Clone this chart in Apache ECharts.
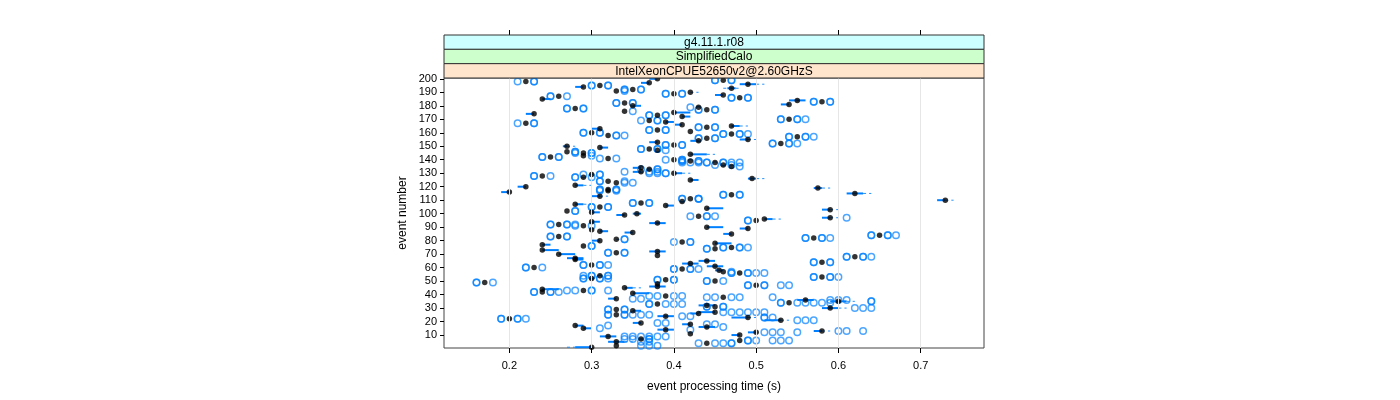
<!DOCTYPE html>
<html><head><meta charset="utf-8">
<script src="https://cdn.jsdelivr.net/npm/echarts@6/dist/echarts.min.js"></script>
<style>html,body{margin:0;padding:0;background:#fff}#c{width:1400px;height:400px}</style>
</head><body><div id="c"></div>
<script>
const xTicks = [0.2, 0.3, 0.4, 0.5, 0.6, 0.7];
const yTicks = [10,20,30,40,50,60,70,80,90,100,110,120,130,140,150,160,170,180,190,200];
const stripLabels = ['g4.11.1.r08', 'SimplifiedCalo', 'IntelXeonCPUE52650v2@2.60GHzS'];
const xTitle = 'event processing time (s)';
const yTitle = 'event number';

const events = [
200,199,198,197,196,195,194,193,192,191,
190,189,188,187,186,185,184,183,182,181,
180,179,178,177,176,175,174,173,172,170,
169,168,167,166,165,164,163,162,161,160,
159,158,157,156,155,154,153,152,151,150,
149,148,147,146,145,144,143,142,141,140,
139,138,136,135,134,133,131,130,129,128,
127,126,125,124,123,121,120,119,118,117,
116,115,114,113,111,110,109,108,107,106,
105,104,103,102,101,100,99,98,97,96,
95,94,93,92,91,90,89,88,87,86,
85,84,83,82,81,80,79,78,77,76,
75,74,73,72,71,70,69,68,67,66,
65,64,63,62,61,60,59,58,57,56,
54,53,52,51,50,49,48,47,46,45,
44,43,42,41,39,38,37,36,35,34,
33,32,31,30,29,28,27,26,25,24,
23,22,21,19,18,17,16,15,14,13,
12,11,10,9,7,6,5,4,2,1];

const medians = [
.38,.46,.22,.37,.49,.31,.29,.47,.35,.33,
.42,.40,.46,.26,.48,.24,.55,.58,.34,.54,
.35,.43,.28,.44,.34,.40,.23,.38,.41,.54,
.37,.39,.22,.41,.47,.44,.31,.38,.42,.30,
.47,.32,.55,.44,.49,.43,.38,.53,.40,.27,
.31,.37,.38,.27,.29,.42,.29,.25,.32,.40,
.42,.45,.46,.47,.36,.37,.36,.40,.30,.24,
.29,.495,.42,.32,.33,.28,.22,.575,.32,.32,
.20,.62,.47,.31,.42,.73,.41,.36,.28,.39,
.31,.44,.59,.27,.30,.355,.34,.43,.59,.51,
.50,.30,.38,.26,.29,.44,.49,.30,.31,.35,
.47,.65,.26,.57,.33,.31,.41,.45,.24,.29,
.47,.45,.24,.38,.33,.26,.38,.62,.28,.28,
.44,.58,.42,.30,.45,.23,.41,.455,.46,.48,
.31,.58,.30,.39,.45,.17,.38,.50,.38,.34,
.24,.29,.24,.35,.39,.46,.33,.56,.60,.54,
.38,.44,.45,.59,.33,.35,.45,.43,.33,.39,
.49,.20,.53,.36,.42,.28,.44,.29,.39,.58,
.50,.42,.48,.32,.36,.48,.33,.44,.33,.30];

// lower / upper hinge (null = equal to median)
const boxLo = [
.37,null,null,.36,.48,null,.28,.465,null,null,
.42,null,.45,null,null,.24,.54,null,null,.53,
.35,null,null,null,null,.40,.22,null,.41,null,
null,.39,null,.40,.47,null,.30,null,null,null,
null,null,null,null,.48,.42,.37,null,null,.265,
.31,null,null,null,null,.42,null,null,null,null,
null,null,null,null,.35,null,.35,.40,null,null,
null,.49,.42,null,null,.28,.21,.57,null,null,
.19,.61,null,.30,null,.72,null,null,.28,.39,
null,.44,.58,null,.30,.35,.33,null,.58,.51,
null,.30,.37,null,null,.44,.48,null,.31,.34,
.46,null,null,null,.33,.30,null,.45,.24,null,
null,null,.24,.37,null,.26,null,null,.27,.28,
.43,null,.41,null,.44,null,null,.45,null,null,
null,null,null,null,null,null,null,null,.37,.34,
.24,null,null,.35,null,null,.32,.55,.59,null,
null,.43,null,.58,null,.35,.43,.42,null,.38,
.47,null,.51,.35,.41,.28,.43,.29,.38,.57,
.49,null,.47,.31,null,null,.32,null,null,.28];

const boxHi = [
.38,null,null,.37,.50,null,.29,.475,null,null,
.42,null,.46,null,null,.25,.56,null,null,.54,
.36,null,null,null,null,.42,.23,null,.42,null,
null,.40,null,.41,.48,null,.31,null,null,null,
null,null,null,null,.49,.43,.38,null,null,.27,
.32,null,null,null,null,.44,null,null,null,null,
null,null,null,null,.36,null,.36,.41,null,null,
null,.50,.43,null,null,.29,.22,.58,null,null,
.20,.63,null,.31,null,.73,null,null,.29,.40,
null,.46,.59,null,.31,.36,.34,null,.59,.52,
null,.31,.39,null,null,.46,.49,null,.32,.35,
.47,null,null,null,.33,.31,null,.47,.25,null,
null,null,.26,.39,null,.28,null,null,.29,.29,
.45,null,.43,null,.46,null,null,.46,null,null,
null,null,null,null,null,null,null,null,.39,.35,
.26,null,null,.37,null,null,.33,.57,.61,null,
null,.45,null,.60,null,.36,.45,.43,null,.40,
.49,null,.53,.36,.42,.29,.45,.30,.40,.58,
.50,null,.48,.33,null,null,.34,null,null,.30];

// whisker ends (null = equal to hinge)
const whiskerLo = [
null,null,null,null,null,null,null,.46,null,null,
null,null,null,null,null,null,null,null,null,null,
null,null,null,null,null,null,null,null,null,null,
null,null,null,null,null,null,null,null,null,null,
null,null,null,null,null,null,null,null,null,null,
null,null,null,null,null,null,null,null,null,null,
null,null,null,null,null,null,null,null,null,null,
null,null,null,null,null,null,null,null,null,null,
null,null,null,null,null,null,null,null,null,null,
null,null,null,null,null,null,null,null,null,null,
null,null,null,null,null,null,null,null,null,null,
null,null,null,null,null,null,null,null,null,null,
null,null,null,null,null,null,null,null,null,null,
null,null,null,null,null,null,null,null,null,null,
null,null,null,null,null,null,null,null,null,null,
null,null,null,null,null,null,null,null,null,null,
null,null,null,null,null,null,null,null,null,null,
null,null,null,null,null,null,null,null,null,null,
null,null,null,null,null,null,null,null,null,.27];

const whiskerHi = [
null,null,null,null,.51,null,null,.48,null,null,
.43,null,null,null,null,null,null,null,null,null,
null,null,null,null,null,null,null,null,null,null,
null,null,null,null,.49,null,null,null,null,null,
null,null,null,null,.50,null,null,null,null,.28,
null,null,null,null,null,.45,null,null,null,null,
null,null,null,null,null,null,null,.42,null,null,
null,.51,null,null,null,.30,null,.59,null,null,
null,.64,null,.32,null,.74,null,null,.30,null,
null,null,.60,null,null,null,null,null,.60,.53,
null,null,null,null,null,null,null,null,null,null,
null,null,null,null,.335,null,null,null,null,null,
null,null,null,null,null,null,null,null,null,null,
null,null,null,null,null,null,null,null,null,null,
null,null,null,null,null,null,null,null,null,.36,
null,null,null,null,null,null,null,null,.62,null,
null,null,null,.61,null,null,null,null,null,null,
.50,null,.54,null,null,null,null,null,null,.59,
null,null,null,null,null,null,.35,null,null,null];

const outliers = [
[],[.45,.45,.47,.47],[.21,.23,.23],[],[],[.30,.30,.32,.32],[],[],[.34,.34,.36,.36],[.34],
[],[.39,.39,.41,.41],[],[.25,.25,.27],[.47,.47,.49,.49],[],[],[.57,.57,.59,.59],[.33,.33,.35,.35],[],
[],[.42],[.27,.27,.29,.29],[.43,.43,.45,.45],[.35],[],[],[.37,.37,.39,.39],[],[.53,.53,.55,.55,.56],
[.36,.38,.38],[],[.21,.23,.23],[],[],[.43,.43,.45,.45],[],[.37,.37,.39,.39],[],[.29,.29,.31,.31],
[.46,.46,.48,.48,.49],[.33,.33,.34],[.54,.54,.56,.56,.57],[.43,.43,.45,.45],[],[],[],[.52,.52,.54,.54,.55],[.39,.39,.41,.41],[],
[],[.36,.36,.38,.38],[.39],[.28,.28],[.28,.30,.30],[],[.30],[.24,.24,.26,.26],[.31,.33],[.39,.41,.41],
[.41,.41,.43,.43],[.41,.42,.43,.44,.44,.46,.46,.47,.48],[.45,.47],[.48],[],[.36,.38,.38],[.34,.37,.38],[.37,.38,.39,.39],[.29,.31,.31],[.23,.23,.25],
[.28,.28,.30],[],[],[.31,.31,.34],[.34,.35],[],[],[],[.31,.31,.33,.33],[.31,.33],
[],[],[.46,.46,.48,.48],[],[.41,.41,.43,.43,.43],[],[],[.35,.35,.37,.37],[],[],
[.30,.30,.32,.32],[],[],[.28,.28],[],[],[],[.42,.44,.44,.45],[.61],[],
[.49,.49],[],[],[.25,.25,.27,.27,.28],[.28,.30],[],[],[],[],[],
[],[.64,.64,.66,.66,.67],[.25,.25,.27,.27],[.56,.56,.58,.58,.59],[.34,.34],[],[.40,.42,.42],[],[],[.30,.30],
[.46,.46,.48,.48,.49],[.44,.44],[],[],[.32,.32,.34,.34],[],[],[.61,.61,.63,.63,.64],[],[],
[],[.57,.57,.59,.59],[],[.29,.29,.31,.31,.32],[],[.22,.22,.24],[.40,.40,.42,.42,.43],[],[.47],[.47,.47,.49,.49,.50,.51],
[.29,.30,.30,.32,.32],[.57,.57,.59,.59,.60],[.29,.29,.31,.31,.32],[.38,.38,.40,.40],[.44,.44,.46],[.16,.16,.18],[],[.49,.49,.51,.51,.53,.54],[],[],
[],[.27,.28,.30,.30,.32],[.23,.23,.25,.25,.26],[],[.37,.38,.40,.41],[.44,.45,.47,.48,.52],[.35,.36],[.59,.60,.61],[.64,.64],[.53,.53,.55,.56,.57,.58,.59],
[.37,.37,.39,.40,.41],[],[.44,.44,.46,.46],[.62,.63,.64],[.32,.32,.34,.34],[],[.46,.47,.48,.49,.50,.51],[],[.32,.32,.34,.34,.35,.36,.37],[.41,.42],
[.51,.51,.52],[.19,.19,.21,.21,.22],[.55,.56,.57],[.38,.39],[.44,.45],[.32],[.46],[.31],[.42],[.60,.61,.63],
[.51,.52,.53,.55],[],[],[.34,.35,.36,.37,.38,.39],[.34,.35,.37,.37],[.49,.49,.50,.52,.53,.54],[.36,.37],[.43,.45,.46,.47,.47],[.36,.37,.38],[]];

const FONT = 'Liberation Sans, Arial, Helvetica, sans-serif';
const BLUE = '#0080ff';
const PL = 444, PR = 984, PT = 78, PB = 348;

const boxData = [], medData = [], outData = [];
events.forEach((e, i) => {
  const m = medians[i];
  const lo = boxLo[i] ?? m, hi = boxHi[i] ?? m;
  const wl = whiskerLo[i] ?? lo, wh = whiskerHi[i] ?? hi;
  if (hi > lo || wl < lo || wh > hi) boxData.push([lo, e, hi, wl, wh]);
  medData.push([m, e]);
  outliers[i].forEach(v => outData.push([v, e]));
});

function renderBox(params, api) {
  const e = api.value(1);
  const a = api.coord([api.value(0), e]);
  const b = api.coord([api.value(2), e]);
  const wl = api.coord([api.value(3), e]);
  const wh = api.coord([api.value(4), e]);
  const y = a[1];
  const children = [];
  if (b[0] - a[0] > 0.3) children.push({type: 'rect', shape: {x: a[0], y: y - 1, width: b[0] - a[0], height: 2}, style: {fill: BLUE}});
  const dash = {stroke: BLUE, lineWidth: 1, lineDash: [3, 3], opacity: 0.85};
  if (a[0] - wl[0] > 0.5) children.push({type: 'line', shape: {x1: wl[0], y1: y, x2: a[0], y2: y}, style: dash});
  if (wh[0] - b[0] > 0.5) children.push({type: 'line', shape: {x1: b[0], y1: y, x2: wh[0], y2: y}, style: dash});
  return {type: 'group', children};
}

const stripColors = ['#ccffff', '#ccffcc', '#ffe5cc'];
const stripTop = 35, stripH = (PT - stripTop) / 3;
const graphics = [];
stripLabels.forEach((t, k) => {
  graphics.push({type: 'rect', silent: true, z: 10,
    shape: {x: PL, y: stripTop + k * stripH, width: PR - PL, height: stripH},
    style: {fill: stripColors[k], stroke: '#333', lineWidth: 1}});
  graphics.push({type: 'text', silent: true, z: 11, x: (PL + PR) / 2, y: stripTop + k * stripH + stripH / 2 + 0.5,
    style: {text: t, font: '12px ' + FONT, fill: '#000', align: 'center', verticalAlign: 'middle', textAlign: 'center', textVerticalAlign: 'middle'}});
});

const chart = echarts.init(document.getElementById('c'), null, {renderer: 'canvas'});
chart.setOption({
  animation: false,
  backgroundColor: '#fff',
  textStyle: {fontFamily: FONT},
  grid: {left: PL, right: 1400 - PR, top: PT, bottom: 400 - PB, show: true, borderColor: '#444', borderWidth: 1},
  xAxis: [{
    type: 'value', min: 0.1205, max: 0.777,
    axisLine: {show: false},
    axisTick: {show: true, customValues: xTicks, length: 5, lineStyle: {color: '#000'}},
    axisLabel: {customValues: xTicks, color: '#000', fontSize: 11, margin: 12, fontFamily: FONT},
    splitLine: {show: false},
    name: xTitle, nameLocation: 'middle', nameGap: 33,
    nameTextStyle: {fontSize: 12, color: '#000', fontFamily: FONT}
  }, {
    type: 'value', min: 0.1205, max: 0.777, position: 'top', offset: PT - stripTop,
    axisLine: {show: false},
    axisTick: {show: true, customValues: xTicks, length: 5, lineStyle: {color: '#000'}},
    axisLabel: {show: false}, splitLine: {show: false}
  }],
  yAxis: {
    type: 'value', min: 0.4, max: 200.6,
    axisLine: {show: false},
    axisTick: {show: true, customValues: yTicks, length: 4, lineStyle: {color: '#000'}},
    axisLabel: {customValues: yTicks, color: '#000', fontSize: 11, margin: 7, fontFamily: FONT},
    splitLine: {show: false},
    name: yTitle, nameLocation: 'middle', nameGap: 35,
    nameTextStyle: {fontSize: 12, color: '#000', fontFamily: FONT}
  },
  graphic: graphics,
  series: [{
    type: 'line', data: [], z: 1, silent: true,
    markLine: {silent: true, symbol: ['none', 'none'], label: {show: false},
      lineStyle: {color: '#e6e6e6', type: 'solid', width: 1},
      data: xTicks.map(v => ({xAxis: v}))}
  }, {
    type: 'custom', z: 2, renderItem: renderBox, data: boxData,
    encode: {x: [0, 2, 3, 4], y: 1}, silent: true
  }, {
    type: 'scatter', z: 3, data: outData, symbol: 'circle', symbolSize: 6.5, silent: true,
    itemStyle: {color: 'rgba(0,0,0,0)', borderColor: BLUE, borderWidth: 1.5, opacity: 0.7}
  }, {
    type: 'scatter', z: 4, data: medData, symbol: 'circle', symbolSize: 5.5, silent: true,
    itemStyle: {color: '#000'}
  }]
});
</script>
</body></html>
